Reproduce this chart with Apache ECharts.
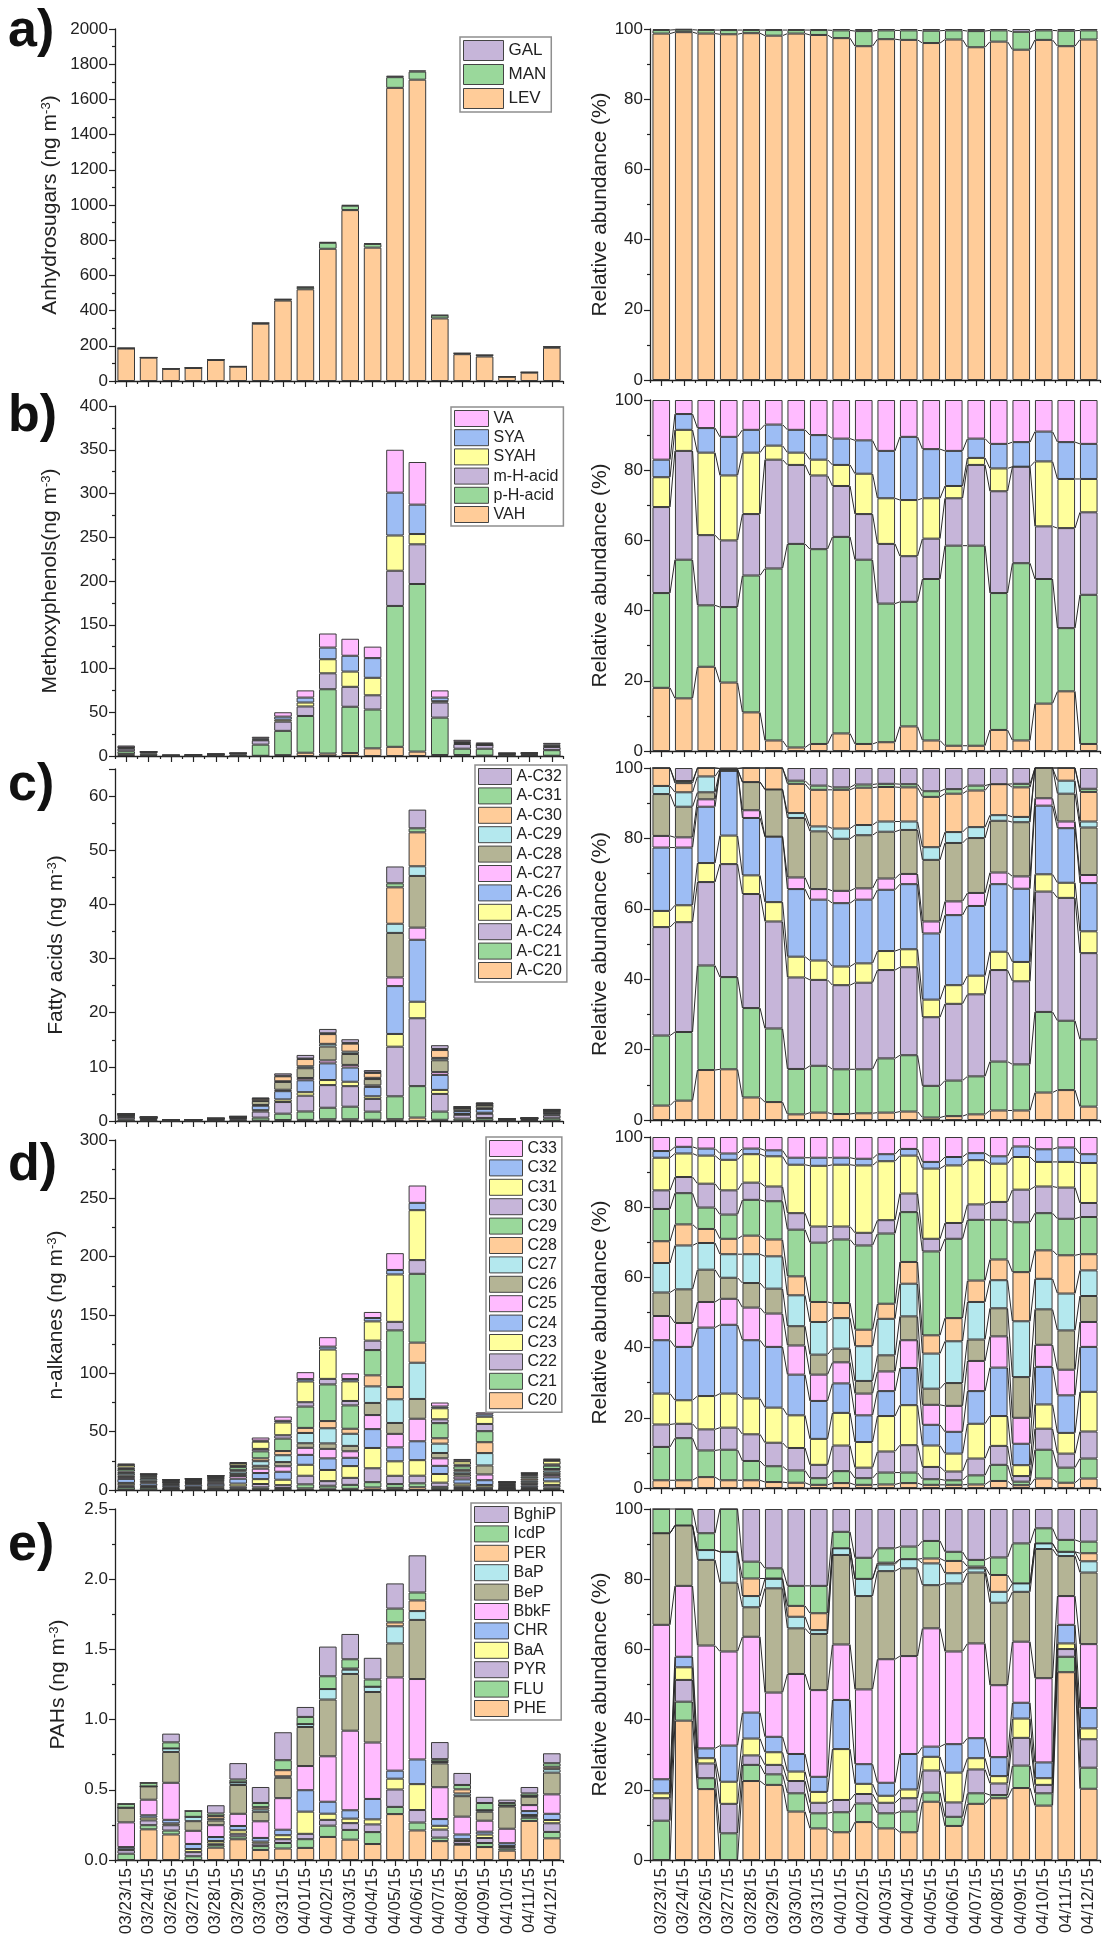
<!DOCTYPE html>
<html>
<head>
<meta charset="utf-8">
<script src="https://cdn.jsdelivr.net/npm/echarts@6.0.0/dist/echarts.min.js"></script>
<style>
  html, body { margin: 0; padding: 0; background: #fff; }
  #chart { width: 1105px; height: 1945px; }
</style>
</head>
<body>
<div id="chart"></div>
<script>
// sampling days
var dates = ['03/23/15', '03/24/15', '03/26/15', '03/27/15', '03/28/15', '03/29/15', '03/30/15',
    '03/31/15', '04/01/15', '04/02/15', '04/03/15', '04/04/15', '04/05/15', '04/06/15',
    '04/07/15', '04/08/15', '04/09/15', '04/10/15', '04/11/15', '04/12/15'];

// ---- a) anhydrosugars : totals (ng m-3) and upper edge of each stack layer (%)
var sugarNames = ['LEV', 'MAN', 'GAL'];
var sugarTotal = [187, 134, 70, 75, 121, 83, 330, 465, 535, 790, 1000, 782, 1735, 1765, 375, 158, 148, 25, 50, 195];
var levTop = [98.7, 99.1, 98.7, 98.5, 98.8, 98.1, 98.7, 98.3, 97.4, 95.1, 97.1, 96.9, 96.0, 97.0, 94.8, 96.4, 94.1, 96.9, 95.1, 97.0];
var manTop = [99.7, 99.8, 99.7, 99.7, 99.7, 99.7, 99.7, 99.7, 99.6, 99.4, 99.6, 99.6, 99.5, 99.6, 99.4, 99.6, 99.2, 99.6, 99.5, 99.6];

// ---- b) methoxyphenols
var phenolNames = ['VAH', 'p-H-acid', 'm-H-acid', 'SYAH', 'SYA', 'VA'];
var phenolTotal = [12, 5, 1, 1.5, 2.5, 3.5, 22, 50, 75, 140, 134, 125, 350, 336, 75, 18.5, 15.5, 3.5, 4, 15];
var vahTop = [18, 15, 24, 19.5, 11, 3, 1, 2, 5, 2, 2.5, 7, 3, 1.5, 1.5, 6, 3, 13.5, 17, 2];
var phaTop = [45, 54.5, 41.5, 41, 50, 52, 59, 57.5, 61, 54.5, 42, 42.5, 49, 58.5, 58.5, 45, 53.5, 49, 35, 44.5];
var mhaTop = [69.5, 85.5, 61.5, 60, 67.5, 83, 81.5, 78.5, 75.5, 67.5, 59, 55.5, 60.5, 72, 81.5, 74, 81, 64, 63.5, 68];
var syahTop = [78, 91.5, 85, 78.5, 85, 87, 85, 83, 81.5, 79, 72, 71.5, 72, 75.5, 83.5, 80.5, 81, 82.5, 77.5, 77.5];
var syaTop = [83, 96, 92, 89.5, 91.5, 93, 91.5, 90, 89, 88.5, 85.5, 89.5, 86, 85.5, 89, 87.5, 88, 91, 88, 87.5];

// ---- c) fatty acids
var acidNames = ['A-C20', 'A-C21', 'A-C24', 'A-C25', 'A-C26', 'A-C27', 'A-C28', 'A-C29', 'A-C30', 'A-C31', 'A-C32'];
var acidTotal = [1.3, 0.75, 0.2, 0.25, 0.5, 0.85, 4.3, 8.8, 12.2, 17, 15.1, 9.4, 47, 57.5, 14, 2.7, 3.4, 0.4, 0.55, 2.2];
var ac20Top = [4.1, 5.5, 14.2, 14.4, 6.4, 5.1, 1.6, 2.1, 1.7, 1.9, 2.1, 2.4, 0.7, 1.1, 1.6, 2.7, 2.7, 7.8, 8.5, 3.8];
var ac21Top = [24, 25, 43.9, 40.6, 31.8, 26, 14.5, 15.4, 14.4, 14.4, 17.5, 18.4, 9.7, 11.2, 12.4, 16.6, 15.8, 30.7, 28.2, 22.9];
var ac24Top = [54.8, 56.2, 67.6, 72.7, 64.2, 56.4, 40.5, 39.8, 38.3, 39, 42.6, 43.4, 29.2, 33, 35.7, 42.6, 39.4, 64.9, 63.1, 47.4];
var ac25Top = [59.4, 61, 73, 80.8, 69.5, 61.9, 46.4, 45.3, 43.6, 44.5, 48, 48.5, 34.2, 38.3, 41, 47.8, 44.9, 69.8, 67.4, 53.6];
var ac26Top = [77.4, 77.4, 89, 99.2, 85.8, 80.5, 65.6, 62.6, 61.6, 62.6, 65.4, 67, 53, 58.2, 60.8, 67, 65.7, 89.3, 82.9, 67.3];
var ac27Top = [80.7, 80.3, 91.1, 99.2, 88, 80.5, 68.9, 65.6, 65.1, 65.8, 68.6, 69.9, 56.4, 62.1, 64.5, 70.3, 69.2, 91.4, 84.8, 69.6];
var ac28Top = [92.6, 89, 93.1, 99.6, 96, 93.9, 85.8, 82, 79.9, 80.9, 81.9, 82.4, 73.9, 78.7, 80.1, 85, 84.6, 100, 92.7, 83.1];
var ac29Top = [94.9, 93.1, 97.6, 99.7, 96, 93.9, 87.2, 83.4, 82.8, 83.8, 84.8, 84.8, 77.5, 81.8, 83.2, 86.6, 86.1, 100, 96.4, 84.8];
var ac30Top = [100, 95.7, 100, 99.8, 100, 100, 95.5, 93.8, 93.8, 94.4, 94.6, 94.5, 91.8, 92.7, 93.6, 95.4, 94.5, 100, 100, 93.2];
var ac31Top = [100, 96.3, 100, 99.9, 100, 100, 96.4, 95, 94.5, 95.3, 95.5, 95.4, 93.4, 94, 95, 95.4, 95.5, 100, 100, 94.1];

// ---- d) n-alkanes
var alkNames = ['C20', 'C21', 'C22', 'C23', 'C24', 'C25', 'C26', 'C27', 'C28', 'C29', 'C30', 'C31', 'C32', 'C33'];
var alkTotal = [22.6, 14, 9.1, 10, 12.6, 24, 45, 63, 101, 131, 100, 152.6, 203, 261, 75, 26.6, 66.6, 7.2, 14.9, 27];
var c20Top = [2.2, 2.2, 3.1, 2.2, 2.2, 1.7, 1.5, 0.9, 1.4, 0.9, 1, 1.4, 0.9, 0.9, 1, 2, 0.8, 2.7, 1.5, 2.7];
var c21Top = [11.7, 14.2, 10.7, 10.9, 7.7, 6.2, 5, 2.8, 4.8, 2.8, 4.4, 4.4, 2.5, 2.2, 3.6, 6.6, 1.8, 10.9, 5.8, 8.4];
var c22Top = [18.1, 18.3, 16.7, 17.2, 15.3, 12.9, 11.4, 6.6, 12.1, 5.8, 10.4, 12.2, 6, 4.7, 8.4, 12, 3.4, 16.9, 9.8, 16.1];
var c23Top = [26.9, 25, 26.2, 26.9, 25.5, 22.9, 20.7, 14, 21.4, 13.1, 20.5, 23.6, 12.1, 9.8, 18.3, 20.5, 6.5, 23.8, 15.7, 27.4];
var c24Top = [42.1, 40.2, 45.7, 46.5, 42.1, 40.2, 32.3, 24.8, 29.8, 20.7, 27.6, 34.2, 18, 16, 27.6, 34.3, 12.6, 34.5, 26.4, 40.2];
var c25Top = [49, 47, 53, 53.9, 51.4, 49.7, 40.6, 32.3, 35.8, 26.9, 33.2, 42.1, 23.7, 23.4, 36.2, 43.2, 20, 40.8, 33.7, 47.3];
var c26Top = [55.7, 56.6, 62.2, 59.9, 58.4, 56.8, 46.1, 38, 39.7, 30.5, 37.8, 48.9, 28.3, 29.9, 42.3, 51.2, 31.6, 50.9, 44.9, 54.7];
var c27Top = [64.1, 69.1, 69.8, 66.6, 66.6, 66, 54.9, 47.3, 48.4, 40.4, 48.2, 58.2, 38.3, 41.8, 53, 59.2, 47.5, 59.6, 55.4, 62];
var c28Top = [70.3, 75.1, 73.8, 71, 71.9, 70.8, 60.3, 53, 52.7, 45.1, 52.5, 64.4, 43.5, 48.4, 59.1, 65.1, 61.5, 67.7, 66.3, 66.6];
var c29Top = [79.5, 84, 79.9, 77.9, 82.1, 81.7, 73.6, 69.9, 70.8, 69.1, 72.5, 78.6, 67.4, 71, 76.4, 76.4, 75.7, 78.3, 76.7, 77.2];
var c30Top = [84.8, 88.6, 86.7, 84.8, 87, 85.9, 78.3, 74.5, 74.5, 72.7, 76.3, 83.9, 71, 75.5, 80.8, 81.5, 85, 85.9, 85.6, 81.2];
var c31Top = [94.1, 95.3, 94.7, 93.5, 95.1, 94.5, 92.1, 91.8, 92.1, 91.9, 93.1, 94.7, 91, 91.9, 93.4, 92.4, 94.3, 92.9, 92.9, 92.6];
var c32Top = [96, 97.2, 96.7, 95.3, 96.7, 96.2, 94.1, 94.1, 94.1, 93.8, 95.1, 96.6, 92.9, 94.3, 95.4, 94.5, 97.3, 96.5, 97, 95.1];

// ---- e) PAHs
var pahNames = ['PHE', 'FLU', 'PYR', 'BaA', 'CHR', 'BbkF', 'BeP', 'BaP', 'PER', 'IcdP', 'BghiP'];
var pahTotal = [0.40, 0.55, 0.90, 0.35, 0.39, 0.69, 0.52, 0.91, 1.09, 1.52, 1.61, 1.44, 1.97, 2.17, 0.84, 0.62, 0.45, 0.43, 0.52, 0.76];
var pheTop = [0, 39.7, 20.2, 0, 22.5, 21.4, 13.8, 9, 7.9, 10.8, 9, 7.9, 16.6, 9.7, 16, 17.6, 20.5, 15.5, 53.5, 20.3];
var fluTop = [11.2, 45.1, 23.3, 7.6, 27.1, 24.4, 19, 13.3, 13.6, 16.1, 13.3, 13.8, 19.2, 12.3, 19, 18.5, 26.9, 19, 57.9, 26.3];
var pyrTop = [17.6, 51.3, 27.5, 16, 29.8, 27.1, 22.5, 16.3, 17.1, 18.8, 16.3, 17.6, 25.5, 16.4, 25.8, 21.8, 34.8, 21.4, 60.1, 34.4];
var baaTop = [19, 54.9, 29, 22.3, 34.6, 30.7, 25.2, 19.4, 31.6, 21.7, 18.3, 20.1, 29.4, 24.9, 29, 23.9, 40.3, 23.3, 61.7, 37.5];
var chrTop = [23, 57.9, 31.8, 32.6, 42, 35.1, 30.2, 23.7, 45.6, 27.3, 22, 30.2, 32.3, 33, 34.7, 29.3, 44.8, 27.8, 67, 43.3];
var bbkfTop = [67, 78.1, 61.1, 59.4, 63.6, 47.7, 53, 48.4, 61.4, 48.6, 57.2, 58.1, 66, 59.4, 61.7, 49.8, 62.2, 51.8, 75.2, 61.5];
var bepTop = [93.1, 95.3, 85.5, 79, 72, 77.4, 66, 64.4, 86.9, 75.2, 82.3, 83.1, 78.3, 78.8, 81.9, 73.3, 76.4, 88.6, 86.6, 81.9];
var bapTop = [93.1, 95.3, 88.3, 87.8, 75.2, 80.1, 69.3, 65.5, 88.8, 80.1, 84.2, 85.7, 84.5, 81.7, 83.1, 76.4, 78.8, 90.2, 87.8, 85.1];
var perTop = [93.1, 95.3, 88.3, 87.8, 80.2, 80.2, 72.4, 70.3, 88.8, 80.1, 84.7, 85.7, 85.9, 85.2, 83.6, 81.2, 78.8, 90.2, 87.8, 87.4];
var icdpTop = [100, 100, 93.1, 100, 85, 83.1, 78.1, 78.1, 93.5, 86.1, 88.8, 89.3, 90.9, 87.8, 85.5, 86.2, 90.2, 94.5, 91.2, 90.7];

// Origin-like light colours
var cOrange = '#FFCC99', cGreen = '#9AD89B', cPurple = '#C6B5D9', cYellow = '#FFFF9C',
    cBlue = '#9DBDF4', cPink = '#FFBBFF', cOlive = '#B4B495', cCyan = '#B4E8EE';
var cycle8 = [cOrange, cGreen, cPurple, cYellow, cBlue, cPink, cOlive, cCyan];

var FONT = '"Liberation Sans", Arial, sans-serif';
var INK = '#222';
var BAR_W = 17.6;

var panels = [
    {label: 'a)', names: sugarNames, total: sugarTotal, tops: [levTop, manTop],
        max: 2000, step: 200, title: 'Anhydrosugars (ng m{s|-3})', gap: 54,
        L: {top: 29, h: 352}, R: {top: 29, h: 351}, labelY: 36,
        legend: {left: 460, top: 37, w: 40, h: 20, gap: 3, fs: 17}},
    {label: 'b)', names: phenolNames, total: phenolTotal, tops: [vahTop, phaTop, mhaTop, syahTop, syaTop],
        max: 400, step: 50, title: 'Methoxyphenols(ng m{s|-3})', gap: 54,
        L: {top: 406, h: 350}, R: {top: 400, h: 351}, labelY: 421,
        legend: {left: 451, top: 407, w: 34, h: 16, gap: 2.2, fs: 16}},
    {label: 'c)', names: acidNames, total: acidTotal,
        tops: [ac20Top, ac21Top, ac24Top, ac25Top, ac26Top, ac27Top, ac28Top, ac29Top, ac30Top, ac31Top],
        max: 65, step: 10, title: 'Fatty acids (ng m{s|-3})', gap: 48,
        L: {top: 769, h: 352}, R: {top: 768, h: 352}, labelY: 790,
        legend: {left: 475, top: 765, w: 33, h: 16, gap: 2.4, fs: 16}},
    {label: 'd)', names: alkNames, total: alkTotal,
        tops: [c20Top, c21Top, c22Top, c23Top, c24Top, c25Top, c26Top, c27Top, c28Top, c29Top, c30Top, c31Top, c32Top],
        max: 300, step: 50, title: 'n-alkanes (ng m{s|-3})', gap: 48,
        L: {top: 1140, h: 350}, R: {top: 1137, h: 351}, labelY: 1170,
        legend: {left: 486, top: 1137, w: 33, h: 16, gap: 2.4, fs: 16}},
    {label: 'e)', names: pahNames, total: pahTotal,
        tops: [pheTop, fluTop, pyrTop, baaTop, chrTop, bbkfTop, bepTop, bapTop, perTop, icdpTop],
        max: 2.5, step: 0.5, title: 'PAHs (ng m{s|-3})', gap: 46,
        L: {top: 1509, h: 351}, R: {top: 1509, h: 351}, labelY: 1550,
        legend: {left: 471, top: 1503, w: 34, h: 16, gap: 2.4, fs: 16}}
];

// share of each layer (%) from the stack edges
function layerShares(tops) {
    var out = [];
    for (var k = 0; k <= tops.length; k++) {
        out.push(dates.map(function (d, i) {
            var hi = k < tops.length ? tops[k][i] : 100;
            var lo = k > 0 ? tops[k - 1][i] : 0;
            return Math.max(0, +(hi - lo).toFixed(2));
        }));
    }
    return out;
}

// thin lines joining the layer edges of neighbouring columns
function connector(levels, gi) {
    return {
        type: 'custom', xAxisIndex: gi, yAxisIndex: gi, silent: true, z: 5,
        data: dates.slice(1).map(function (d, i) { return [i, 0]; }),
        encode: {x: 0, y: 1},
        renderItem: function (params, api) {
            var i = api.value(0);
            var half = BAR_W / 2;
            var kids = levels.map(function (lv) {
                var p1 = api.coord([i, lv[i]]);
                var p2 = api.coord([i + 1, lv[i + 1]]);
                return {type: 'line', shape: {x1: p1[0] + half, y1: p1[1], x2: p2[0] - half, y2: p2[1]},
                    style: {stroke: '#2a2a2a', lineWidth: 1}};
            });
            return {type: 'group', children: kids};
        }
    };
}

var grid = [], xAxis = [], xMinor = [], yAxis = [], series = [], legend = [], graphic = [];
var axisLine = {show: true, lineStyle: {color: INK, width: 1.3}};

panels.forEach(function (p, r) {
    var shares = layerShares(p.tops);
    var colors = p.names.map(function (n, k) { return cycle8[k % 8]; });
    [0, 1].forEach(function (side) {
        var gi = r * 2 + side;
        var g = side === 0 ? p.L : p.R;
        grid.push({left: side === 0 ? 115 : 650, top: g.top, width: side === 0 ? 448 : 450, height: g.h});
        var last = r === panels.length - 1;
        xAxis.push({
            type: 'category', gridIndex: gi, position: 'bottom', data: dates, boundaryGap: true,
            axisLine: axisLine,
            axisTick: {show: true, alignWithLabel: true, length: 6, lineStyle: {color: INK, width: 1.2}},
            axisLabel: {show: last, rotate: 90, fontSize: 17, color: INK, fontFamily: FONT, margin: 8, interval: 0},
            splitLine: {show: false}
        });
        // short ticks between the columns
        xMinor.push({
            type: 'category', gridIndex: gi, position: 'bottom', offset: 0, data: dates, boundaryGap: true,
            axisLine: {show: false},
            axisTick: {show: true, length: 3, interval: 0, lineStyle: {color: INK, width: 1.2}},
            axisLabel: {show: false}, splitLine: {show: false}
        });
        var isPct = side === 1;
        yAxis.push({
            type: 'value', gridIndex: gi, min: 0,
            max: isPct ? 100 : p.max, interval: isPct ? 20 : p.step,
            axisLine: axisLine,
            axisTick: {show: true, length: 6, lineStyle: {color: INK, width: 1.2}},
            minorTick: {show: true, splitNumber: 2, length: 3, lineStyle: {color: INK, width: 1.2}},
            splitLine: {show: false},
            axisLabel: {
                fontSize: 17, color: INK, fontFamily: FONT, margin: 7,
                formatter: function (v) {
                    if (isPct) return v;
                    if (p.step === 0.5) return v.toFixed(1);
                    return (Math.abs(v / p.step - Math.round(v / p.step)) < 1e-6) ? v : '';
                }
            },
            name: isPct ? 'Relative abundance (%)' : p.title,
            nameLocation: 'middle', nameGap: isPct ? 38 : p.gap,
            nameTextStyle: {fontSize: 21, color: INK, fontFamily: FONT,
                rich: {s: {fontSize: 13, color: INK, fontFamily: FONT, verticalAlign: 'top', lineHeight: 14}}}
        });
        p.names.forEach(function (name, k) {
            var vals = shares[k].map(function (s, i) {
                return isPct ? s : +(p.total[i] * s / 100).toFixed(5);
            });
            series.push({
                type: 'bar', name: name, xAxisIndex: gi, yAxisIndex: gi,
                stack: 'st' + gi, barWidth: BAR_W, data: vals,
                itemStyle: {color: colors[k], borderColor: '#3a3a3a', borderWidth: 1},
                emphasis: {disabled: true}
            });
        });
        if (isPct) series.push(connector(p.tops, gi));
    });
    var lg = p.legend;
    legend.push({
        orient: 'vertical', left: lg.left, top: lg.top,
        data: p.names.slice().reverse(), icon: 'rect',
        itemWidth: lg.w, itemHeight: lg.h, itemGap: lg.gap,
        itemStyle: {borderColor: '#444', borderWidth: 1},
        textStyle: {fontSize: lg.fs, color: INK, fontFamily: FONT},
        padding: [3, 5, 3, 3], borderColor: '#8f8f8f', borderWidth: 1.5,
        backgroundColor: '#fff', selectedMode: false
    });
    graphic.push({
        type: 'text', left: 8, top: p.labelY - 30,
        style: {text: p.label, font: 'bold 52px ' + FONT, fill: '#111'}
    });
});

var chart = echarts.init(document.getElementById('chart'), null, {renderer: 'canvas'});
chart.setOption({
    animation: false,
    backgroundColor: '#fff',
    grid: grid,
    xAxis: xAxis.concat(xMinor),
    yAxis: yAxis,
    legend: legend,
    graphic: graphic,
    series: series
});
</script>
</body>
</html>
